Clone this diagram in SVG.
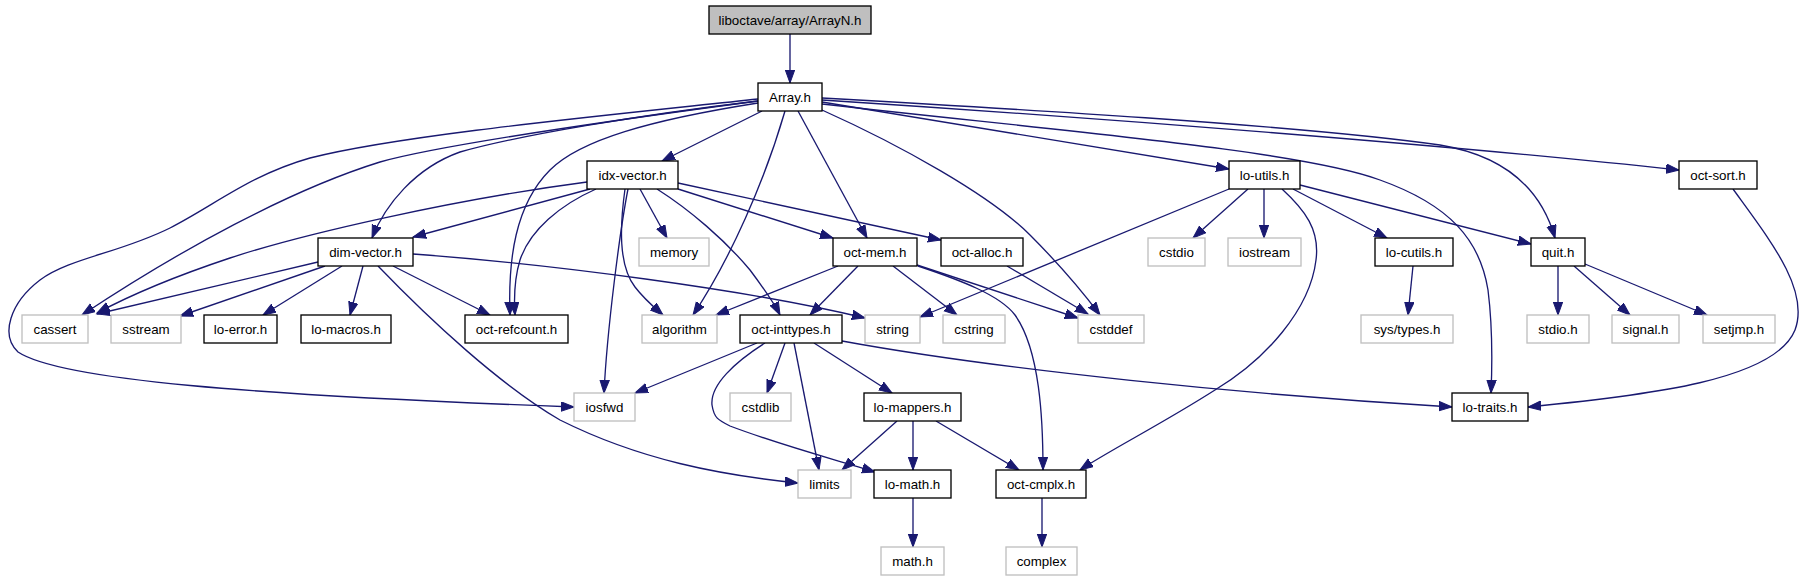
<svg xmlns="http://www.w3.org/2000/svg" width="1806" height="581" viewBox="0 0 1806 581">
<style>
.n rect{fill:#ffffff;stroke:#000000;stroke-width:1.33}
.g rect{fill:#ffffff;stroke:#bfbfbf;stroke-width:1.33}
.r rect{fill:#bfbfbf;stroke:#000000;stroke-width:1.33}
text{font-family:"Liberation Sans",Arial,Helvetica,sans-serif;font-size:13.33px;text-anchor:middle;fill:#000000}
#edges path{fill:none;stroke:#191970;stroke-width:1.33;marker-end:url(#a)}
</style>
<defs>
<marker id="a" markerUnits="userSpaceOnUse" markerWidth="15" markerHeight="11" refX="13" refY="5" orient="auto" viewBox="0 0 15 11">
<path d="M0,0.3 L13,5 L0,9.7 z" fill="#191970" stroke="#191970" stroke-width="1"/>
</marker>
</defs>
<rect width="1806" height="581" fill="#ffffff"/>
<g id="edges">
<path d="M790,34 L790,83"/>
<path d="M762,111 L662,161"/>
<path d="M758,101 C640,115 520,135 460,152 C415,168 385,205 372,238"/>
<path d="M758,101 C600,122 440,145 380,162 C290,190 180,250 82,315"/>
<path d="M758,99 C600,116 400,135 310,158 C250,175 215,205 170,228 C120,253 70,258 40,280 C10,303 0,335 18,352 C60,380 250,395 574,407"/>
<path d="M758,103 C650,120 580,140 550,170 C515,205 508,260 510,315"/>
<path d="M785,111 C765,180 730,260 693,315"/>
<path d="M798,111 L867,238"/>
<path d="M822,110 C900,145 990,195 1030,235 C1060,265 1085,295 1100,315"/>
<path d="M822,102 L1229,169"/>
<path d="M822,98 C1000,108 1300,125 1440,145 C1500,155 1540,185 1555,238"/>
<path d="M822,100 C1100,118 1450,145 1679,170"/>
<path d="M822,104 C1050,130 1300,150 1380,180 C1450,205 1480,240 1488,290 C1493,330 1492,370 1491,393"/>
<path d="M590,189 L413,237"/>
<path d="M587,182 C450,200 300,235 230,258 C170,278 125,298 97,313"/>
<path d="M596,189 C560,205 530,230 520,260 C514,280 514,300 515,315"/>
<path d="M628,189 C620,230 607,330 604,393"/>
<path d="M640,189 L667,238"/>
<path d="M625,189 C620,225 618,265 635,287 C645,300 655,308 663,315"/>
<path d="M657,189 C690,210 725,240 750,270 C765,290 775,305 780,315"/>
<path d="M678,189 L833,238"/>
<path d="M678,183 L941,240"/>
<path d="M318,262 L97,314"/>
<path d="M325,266 L180,316"/>
<path d="M342,266 L263,315"/>
<path d="M363,266 L350,315"/>
<path d="M393,266 L490,315"/>
<path d="M413,254 C550,264 750,290 865,318"/>
<path d="M378,266 C430,320 500,385 560,420 C640,460 720,475 798,483"/>
<path d="M838,266 L716,315"/>
<path d="M858,266 L810,315"/>
<path d="M893,266 L957,315"/>
<path d="M917,265 L1078,318"/>
<path d="M918,266 C960,280 1000,295 1015,315 C1040,350 1043,420 1043,470"/>
<path d="M1007,266 L1088,314"/>
<path d="M1229,189 L920,317"/>
<path d="M1248,189 L1193,238"/>
<path d="M1264,189 L1264,238"/>
<path d="M1293,189 L1387,238"/>
<path d="M1300,185 L1531,244"/>
<path d="M1282,189 C1305,210 1320,230 1316,260 C1310,310 1265,360 1215,390 C1160,425 1110,450 1080,470"/>
<path d="M1413,266 L1408,315"/>
<path d="M1558,266 L1558,315"/>
<path d="M1574,266 L1630,315"/>
<path d="M1585,264 L1707,315"/>
<path d="M1733,189 C1770,240 1810,290 1795,330 C1775,380 1650,395 1528,407"/>
<path d="M757,343 L635,393"/>
<path d="M785,343 L767,393"/>
<path d="M794,343 L819,470"/>
<path d="M765,343 C735,362 710,385 712,405 C714,418 718,420 730,426 C780,445 830,458 875,472"/>
<path d="M814,343 L892,393"/>
<path d="M842,341 C1000,370 1250,395 1452,407"/>
<path d="M897,421 L842,470"/>
<path d="M913,421 L913,470"/>
<path d="M936,421 L1019,470"/>
<path d="M913,498 L913,547"/>
<path d="M1042,498 L1042,547"/>
</g>
<g id="n_ArrayN" class="r"><rect x="709" y="6" width="162" height="28"/><text x="790" y="24.7">liboctave/array/ArrayN.h</text></g>
<g id="n_Array" class="n"><rect x="758" y="83" width="64" height="28"/><text x="790" y="101.7">Array.h</text></g>
<g id="n_idx_vector" class="n"><rect x="587" y="161" width="91" height="28"/><text x="632.5" y="179.7">idx-vector.h</text></g>
<g id="n_lo_utils" class="n"><rect x="1229" y="161" width="71" height="28"/><text x="1264.5" y="179.7">lo-utils.h</text></g>
<g id="n_oct_sort" class="n"><rect x="1679" y="161" width="78" height="28"/><text x="1718" y="179.7">oct-sort.h</text></g>
<g id="n_dim_vector" class="n"><rect x="318" y="238" width="95" height="28"/><text x="365.5" y="256.7">dim-vector.h</text></g>
<g id="n_memory" class="g"><rect x="639" y="238" width="70" height="28"/><text x="674" y="256.7">memory</text></g>
<g id="n_oct_mem" class="n"><rect x="833" y="238" width="84" height="28"/><text x="875" y="256.7">oct-mem.h</text></g>
<g id="n_oct_alloc" class="n"><rect x="941" y="238" width="82" height="28"/><text x="982" y="256.7">oct-alloc.h</text></g>
<g id="n_cstdio" class="g"><rect x="1148" y="238" width="57" height="28"/><text x="1176.5" y="256.7">cstdio</text></g>
<g id="n_iostream" class="g"><rect x="1228" y="238" width="73" height="28"/><text x="1264.5" y="256.7">iostream</text></g>
<g id="n_lo_cutils" class="n"><rect x="1375" y="238" width="78" height="28"/><text x="1414" y="256.7">lo-cutils.h</text></g>
<g id="n_quit" class="n"><rect x="1531" y="238" width="54" height="28"/><text x="1558" y="256.7">quit.h</text></g>
<g id="n_cassert" class="g"><rect x="22" y="315" width="66" height="28"/><text x="55" y="333.7">cassert</text></g>
<g id="n_sstream" class="g"><rect x="111" y="315" width="70" height="28"/><text x="146" y="333.7">sstream</text></g>
<g id="n_lo_error" class="n"><rect x="204" y="315" width="73" height="28"/><text x="240.5" y="333.7">lo-error.h</text></g>
<g id="n_lo_macros" class="n"><rect x="301" y="315" width="90" height="28"/><text x="346" y="333.7">lo-macros.h</text></g>
<g id="n_oct_refcount" class="n"><rect x="465" y="315" width="103" height="28"/><text x="516.5" y="333.7">oct-refcount.h</text></g>
<g id="n_algorithm" class="g"><rect x="642" y="315" width="75" height="28"/><text x="679.5" y="333.7">algorithm</text></g>
<g id="n_oct_inttypes" class="n"><rect x="740" y="315" width="102" height="28"/><text x="791" y="333.7">oct-inttypes.h</text></g>
<g id="n_string" class="g"><rect x="865" y="315" width="55" height="28"/><text x="892.5" y="333.7">string</text></g>
<g id="n_cstring" class="g"><rect x="943" y="315" width="62" height="28"/><text x="974" y="333.7">cstring</text></g>
<g id="n_cstddef" class="g"><rect x="1078" y="315" width="66" height="28"/><text x="1111" y="333.7">cstddef</text></g>
<g id="n_sys_types" class="g"><rect x="1361" y="315" width="92" height="28"/><text x="1407" y="333.7">sys/types.h</text></g>
<g id="n_stdio" class="g"><rect x="1527" y="315" width="62" height="28"/><text x="1558" y="333.7">stdio.h</text></g>
<g id="n_signal" class="g"><rect x="1612" y="315" width="67" height="28"/><text x="1645.5" y="333.7">signal.h</text></g>
<g id="n_setjmp" class="g"><rect x="1703" y="315" width="72" height="28"/><text x="1739" y="333.7">setjmp.h</text></g>
<g id="n_iosfwd" class="g"><rect x="574" y="393" width="61" height="28"/><text x="604.5" y="411.7">iosfwd</text></g>
<g id="n_cstdlib" class="g"><rect x="730" y="393" width="61" height="28"/><text x="760.5" y="411.7">cstdlib</text></g>
<g id="n_lo_mappers" class="n"><rect x="864" y="393" width="97" height="28"/><text x="912.5" y="411.7">lo-mappers.h</text></g>
<g id="n_lo_traits" class="n"><rect x="1452" y="393" width="76" height="28"/><text x="1490" y="411.7">lo-traits.h</text></g>
<g id="n_limits" class="g"><rect x="798" y="470" width="53" height="28"/><text x="824.5" y="488.7">limits</text></g>
<g id="n_lo_math" class="n"><rect x="874" y="470" width="77" height="28"/><text x="912.5" y="488.7">lo-math.h</text></g>
<g id="n_oct_cmplx" class="n"><rect x="996" y="470" width="90" height="28"/><text x="1041" y="488.7">oct-cmplx.h</text></g>
<g id="n_math" class="g"><rect x="881" y="547" width="63" height="28"/><text x="912.5" y="565.7">math.h</text></g>
<g id="n_complex" class="g"><rect x="1006" y="547" width="71" height="28"/><text x="1041.5" y="565.7">complex</text></g>
</svg>
